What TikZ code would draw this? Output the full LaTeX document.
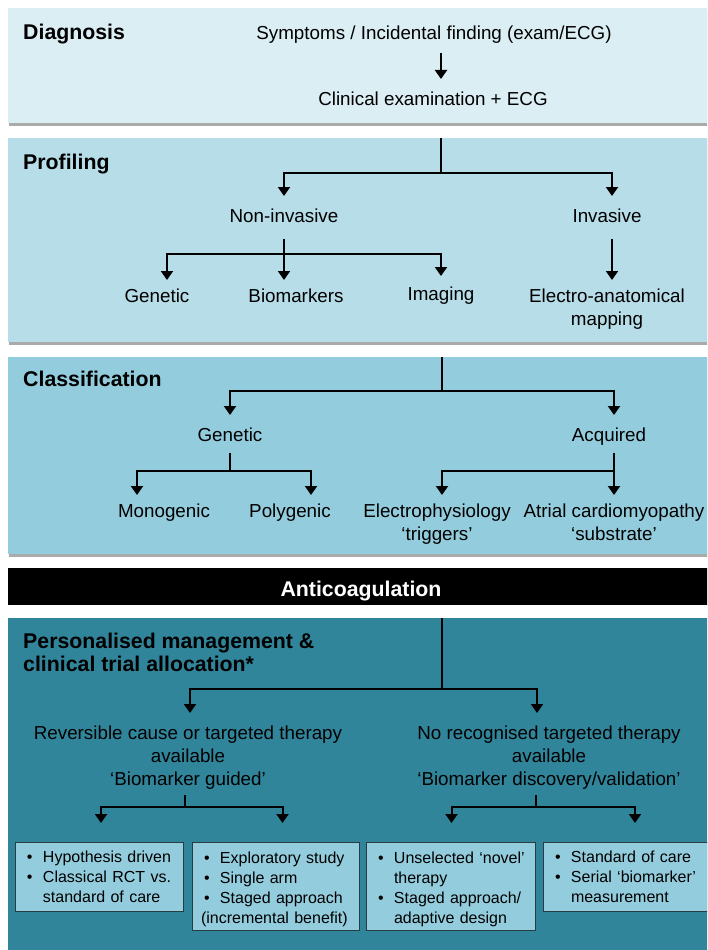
\documentclass[tikz,border=0pt]{standalone}
\usepackage{fontspec}
\setmainfont{Liberation Sans}
\usetikzlibrary{positioning, arrows.meta, calc}
\definecolor{diagblue}{RGB}{219, 238, 244}
\definecolor{profblue}{RGB}{183, 221, 232}
\definecolor{classblue}{RGB}{147, 205, 221}
\definecolor{mgmtteal}{RGB}{49, 133, 155}
\definecolor{boxblue}{RGB}{147, 205, 221}
\definecolor{boxedge}{RGB}{40, 60, 68}
\definecolor{panelshade}{RGB}{170, 170, 170}
\newcommand{\ls}{\rule[-4.5pt]{0pt}{18.5pt}}
\newcommand{\tall}{\rule{0pt}{17.7pt}}
\newcommand{\bl}[1]{\mbox{\makebox[16pt][l]{•}#1}}
\newcommand{\cont}[1]{\mbox{\hspace*{16pt}#1}}
\tikzset{
  head/.style={
    anchor=base west,
    inner sep=0pt,
    font=\fontsize{21.3}{23}\selectfont\bfseries
  },
  lbl/.style={
    inner sep=0pt,
    outer xsep=0pt,
    align=center,
    font=\fontsize{18.8}{23}\selectfont
  },
  mid/.style={lbl, anchor=north, outer ysep=12pt},
  leaf/.style={lbl, anchor=north, outer ysep=8pt},
  link/.style={draw=black, line width=2pt},
  arr/.style={link, -{Triangle[width=12pt, length=9pt]}},
  trialbox/.style={
    draw=boxedge,
    line width=0.8pt,
    fill=boxblue,
    anchor=north west,
    outer xsep=0pt,
    outer ysep=19pt,
    inner xsep=12pt,
    inner ysep=0pt,
    text width=144pt,
    align=left,
    font=\fontsize{16}{20}\selectfont
  }
}

\begin{document}
\begin{tikzpicture}[x=1pt, y=-1pt]
\useasboundingbox (0,0) rectangle (707,950);
\clip (0,0) rectangle (707,950);
\fill[white] (0,0) rectangle (707,950);

% panels
\fill[panelshade] (9,10) rectangle (716,126);
\fill[diagblue] (8,8) rectangle (714,123);
\fill[panelshade] (9,140) rectangle (716,345);
\fill[profblue] (8,138) rectangle (714,342);
\fill[panelshade] (9,359) rectangle (716,557);
\fill[classblue] (8,357) rectangle (714,554);
\fill[black] (8,568) rectangle (714,605);
\fill[mgmtteal] (8,618) rectangle (714,960);

% headings
\node[head] (hdiag) at (23,40) {Diagnosis};
\node[head] (hprof) at (23,169) {Profiling};
\node[head] (hclass) at (23,386) {Classification};
\node[head, anchor=north west, align=left] (hmgmt) at (23,633) {Personalised management \&\\clinical trial allocation*};
\node[head, anchor=base, text=white] (anticoag) at (361,596) {Anticoagulation};

% diagnosis
\node[lbl, anchor=north, outer ysep=9pt] (symp) at (434,17) {\ls Symptoms / Incidental finding (exam/ECG)};
\node[mid] (clin) at (433,79) {\ls Clinical examination + ECG};
\draw[arr] ([xshift=7pt]symp.south) -- ([xshift=8pt]clin.north);

% profiling
\coordinate (ptop) at (441,138);
\coordinate (pfork) at (441,173);
\node[mid] (noninv) at (284,196) {\ls Non-invasive};
\node[mid] (invasive) at (607,196) {\ls Invasive};
\node[leaf] (pgen) at (157,280) {\ls Genetic};
\node[leaf] (pbio) at (296,280) {\ls Biomarkers};
\node[leaf] (pimg) at (441,278) {\ls Imaging};
\node[leaf] (electro) at (607,280) {\ls Electro-anatomical\\mapping};
\coordinate (nifork) at (284,254);
\draw[link] (ptop) -- (pfork);
\draw[arr] (pfork) -| (noninv.north);
\draw[arr] (pfork) -| ([xshift=5pt]invasive.north);
\draw[link] (noninv.south) -- (nifork);
\draw[arr] (nifork) -| ([xshift=10pt]pgen.north);
\draw[arr] (nifork) -| ([xshift=-12pt]pbio.north);
\draw[arr] (nifork) -| ([yshift=2pt]pimg.north);
\draw[arr] ([xshift=5pt]invasive.south) -- ([xshift=5pt]electro.north);

% classification
\coordinate (ctop) at (442,357);
\coordinate (cfork) at (442,391);
\node[mid] (cgen) at (230,415) {\ls Genetic};
\node[mid] (acq) at (609,415) {\ls Acquired};
\node[leaf] (mono) at (164,495) {\ls Monogenic};
\node[leaf] (poly) at (290,495) {\ls Polygenic};
\node[leaf] (ephys) at (437,495) {\ls Electrophysiology\\‘triggers’};
\node[leaf] (subst) at (614,495) {\ls Atrial cardiomyopathy\\‘substrate’};
\coordinate (gfork) at (230,471);
\coordinate (afork) at (614,471);
\draw[link] (ctop) -- (cfork);
\draw[arr] (cfork) -| (cgen.north);
\draw[arr] (cfork) -| ([xshift=5pt]acq.north);
\draw[link, shorten <=-5pt] (cgen.south) -- (gfork);
\draw[arr] (gfork) -| ([xshift=-27pt]mono.north);
\draw[arr] (gfork) -| ([xshift=21pt]poly.north);
\draw[arr, shorten <=-5pt] ([xshift=5pt]acq.south) -- (subst.north);
\draw[arr] (afork) -| ([xshift=5pt]ephys.north);

% management
\coordinate (mtop) at (442,618);
\coordinate (mfork) at (442,689);
\node[mid] (rev) at (188,713) {\ls Reversible cause or targeted therapy\\available\\‘Biomarker guided’};
\node[mid] (norec) at (549,713) {\ls No recognised targeted therapy\\available\\‘Biomarker discovery/validation’};
\coordinate (rfork) at (185,807);
\coordinate (nfork) at (536,807);
\draw[link] (mtop) -- (mfork);
\draw[arr] (mfork) -| ([xshift=2pt]rev.north);
\draw[arr] (mfork) -| ([xshift=-12pt]norec.north);
\draw[link, shorten <=-6pt] ([xshift=-3pt]rev.south) -- (rfork);
\draw[link, shorten <=-6pt] ([xshift=-13pt]norec.south) -- (nfork);

\node[trialbox, minimum height=69pt] (hyp) at (15,823)
  {\bl{Hypothesis driven}\\\bl{Classical RCT vs.}\\\cont{standard of care}};
\node[trialbox, minimum height=88pt, text width=143pt] (explo) at (192,823)
  {\tall\bl{Exploratory study}\\\bl{Single arm}\\\bl{Staged approach}\\\mbox{\hspace*{-3pt}(incremental benefit)}};
\node[trialbox, minimum height=88pt, text width=145pt] (unsel) at (366,823)
  {\tall\bl{Unselected ‘novel’}\\\cont{therapy}\\\bl{Staged approach/}\\\cont{adaptive design}};
\node[trialbox, minimum height=69pt] (soc) at (543,823)
  {\bl{Standard of care}\\\bl{Serial ‘biomarker’}\\\cont{measurement}};
\draw[arr] (rfork) -| ([xshift=2pt]hyp.north);
\draw[arr] (rfork) -| ([xshift=7pt]explo.north);
\draw[arr] (nfork) -| ([xshift=1pt]unsel.north);
\draw[arr] (nfork) -| ([xshift=8pt]soc.north);
\end{tikzpicture}
\end{document}
